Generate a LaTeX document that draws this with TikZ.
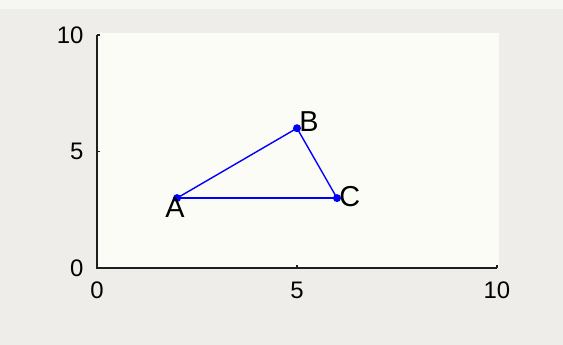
\documentclass[tikz,border=0pt]{standalone}
\usepackage{fontspec}
\setmainfont{Liberation Sans}
\usetikzlibrary{positioning, calc}

\definecolor{pagebg}{HTML}{EEEDE9}
\definecolor{plotbg}{HTML}{FCFCF7}
\definecolor{topband}{HTML}{F6F6F3}
\definecolor{axiscol}{HTML}{1E1E1E}

\begin{document}
\begin{tikzpicture}[
    x=1cm, y=0.5825cm, % one axis unit: 40px across, 23.3px up
    every node/.style={inner sep=0pt},
    pt/.style={circle, fill=blue, minimum size=0.2cm},
    ptlabel/.style={font=\fontsize{20.5}{22}\selectfont},
    ticklabel/.style={font=\fontsize{17}{18}\selectfont, text=black},
    edge/.style={blue, line width=1pt},
    axisline/.style={axiscol, line width=1.3pt}
]
    % background and plot area
    \fill[pagebg] (-2.425,-3.305) rectangle (11.65,11.502);
    \fill[topband] (-2.425,11.116) rectangle (11.65,11.502);
    \fill[plotbg] (0,0) rectangle (10.05,10.086);
    \useasboundingbox (-2.425,-3.305) rectangle (11.65,11.502);

    % axes with inward ticks
    \coordinate (o) at (0,0);
    \coordinate (xend) at (10,0);
    \coordinate (yend) at (0,10);
    \draw[axisline] (yend) -- (o) -- (xend);
    \foreach \t in {0,5,10} {
        \draw[axisline] (\t,0) -- ++(0,0.075cm);
        \draw[axisline] (0,\t) -- ++(0.075cm,0);
    }

    % tick labels
    \foreach \t in {0,5,10} {
        \node[ticklabel, anchor=east] (y\t) at ([xshift=-0.33cm]0,\t) {\t};
        \node[ticklabel] (x\t) at ([yshift=-0.56cm]\t,0) {\t};
    }

    % Place the nodes
    \node[pt] (A) at (2,3) {};
    \node[pt] (B) at (5,6) {};
    \node[pt] (C) at (6,3) {};

    \node[ptlabel] (lA) at ([xshift=-0.05cm, yshift=-0.23cm]A.center) {A};
    \node[ptlabel, anchor=west] (lB) at ([xshift=0.05cm, yshift=0.17cm]B.center) {B};
    \node[ptlabel, anchor=west] (lC) at ([xshift=0.05cm, yshift=0.04cm]C.center) {C};

    % Draw the edges
    \draw[edge] (A.center) -- (B.center);
    \draw[edge] (B.center) -- (C.center);
    \draw[edge] (C.center) -- (A.center);
\end{tikzpicture}
\end{document}
